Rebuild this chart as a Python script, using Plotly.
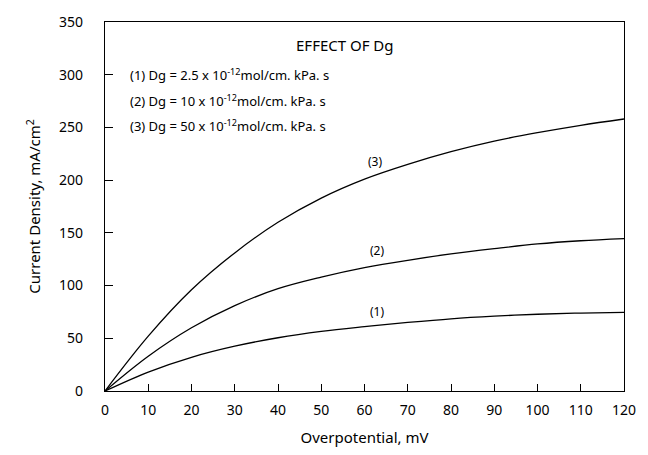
import plotly.graph_objects as go

overpotential = [0, 10, 20, 30, 40, 50, 60, 70, 80, 90, 100, 110, 120]
curve1 = [0, 18, 32, 42.5, 50.5, 56.5, 61, 65, 68.5, 71, 72.8, 73.9, 74.5]
curve2 = [0, 33, 60, 81, 97, 108, 117, 124, 130, 135, 139.5, 142.5, 144.5]
curve3 = [0, 52, 96, 131, 160, 183, 201, 215, 227, 237, 245, 252, 258]

curve_labels = ["(1)", "(2)", "(3)"]
label_x = [63, 63, 62.5]
label_y = [75, 133, 218]

legend_lines = [
    "(1) Dg = 2.5 x 10<sup>-12</sup>mol/cm. kPa. s",
    "(2) Dg = 10 x 10<sup>-12</sup>mol/cm. kPa. s",
    "(3) Dg = 50 x 10<sup>-12</sup>mol/cm. kPa. s",
]
legend_y = [300, 276, 252]

FONT = "Noto Sans"

fig = go.Figure()
for ys in [curve1, curve2, curve3]:
    fig.add_trace(go.Scatter(x=overpotential, y=ys, mode="lines",
                             line=dict(color="black", width=1.3, shape="spline", smoothing=1.0),
                             showlegend=False, hoverinfo="skip"))

for t, x, y in zip(curve_labels, label_x, label_y):
    fig.add_annotation(x=x, y=y, text=t, showarrow=False, xanchor="center", yanchor="middle",
                       font=dict(family=FONT, size=12, color="black"))

fig.add_annotation(x=55.4, y=328, text="EFFECT OF Dg", showarrow=False, xanchor="center",
                   yanchor="middle", font=dict(family=FONT, size=15, color="black"))
for t, y in zip(legend_lines, legend_y):
    fig.add_annotation(x=5.3, y=y, text=t, showarrow=False, xanchor="left", yanchor="middle",
                       font=dict(family=FONT, size=13, color="black"))

fig.update_layout(
    width=648, height=455,
    margin=dict(l=105, r=21, t=19, b=63),
    paper_bgcolor="white", plot_bgcolor="white",
    font=dict(family=FONT, color="black"),
)
fig.update_xaxes(
    range=[0, 120], tickvals=list(range(0, 121, 10)),
    showline=True, linecolor="black", linewidth=1.3, mirror=True,
    ticks="inside", ticklen=7, tickcolor="black", tickwidth=1.2,
    showgrid=False, zeroline=False,
    tickfont=dict(family=FONT, size=14),
    ticklabelstandoff=6,
    title=dict(text="Overpotential, mV", font=dict(family=FONT, size=15), standoff=14),
)
fig.update_yaxes(
    range=[0, 350], tickvals=list(range(0, 351, 50)),
    showline=True, linecolor="black", linewidth=1.3, mirror=True,
    ticks="inside", ticklen=8, tickcolor="black", tickwidth=1.2,
    showgrid=False, zeroline=False,
    tickfont=dict(family=FONT, size=14),
    ticklabelstandoff=18,
    title=dict(text="Current Density, mA/cm<sup>2</sup>", font=dict(family=FONT, size=15), standoff=14),
)

fig.write_html("out.html")
